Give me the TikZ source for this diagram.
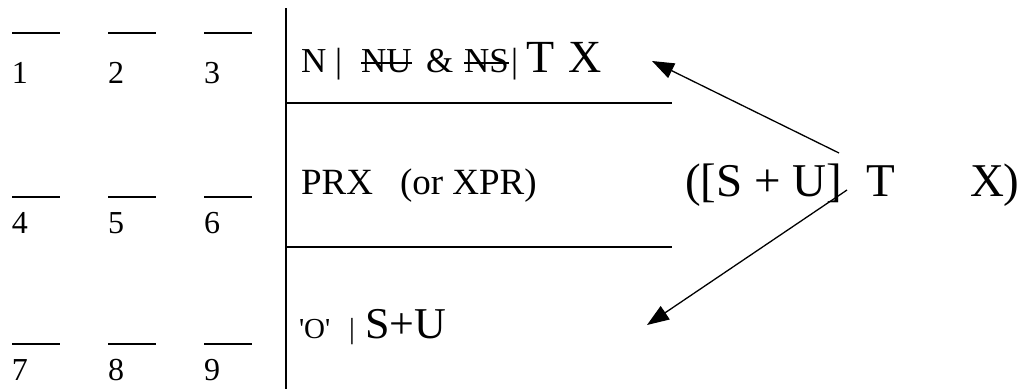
\documentclass[tikz,border=0pt]{standalone}
\usepackage{fontspec}
\setmainfont{Liberation Serif}
\newfontfamily\rawserif{Liberation Serif}
\usetikzlibrary{arrows.meta}
\begin{document}
\begin{tikzpicture}[x=1pt,y=-1pt,
  txt/.style={anchor=base west,inner sep=0pt,outer sep=0pt},
  sz/.style={font=\fontsize{#1}{#1}\selectfont},
  blank/.style={line width=2pt},
  rule/.style={line width=1.5pt},
  strike/.style={line width=1.2pt},
  pointer/.style={line width=1.3pt,-{Triangle[length=22pt,width=16pt]}}]
\useasboundingbox (0,0) rectangle (1026,389);

% numbered blanks, three rows of three
\foreach \r/\ly/\by in {0/33/83, 1/197/233, 2/344/380} {
  \foreach \c in {0,1,2} {
    \pgfmathtruncatemacro{\n}{3*\r+\c+1}
    \pgfmathsetmacro{\xa}{12+96*\c}
    \draw[blank] (\xa,\ly) -- ++(48,0);
    \node[txt,sz=32] (d\n) at (\xa,\by) {\n};
  }
}

% table frame
\coordinate (vtop) at (286,8);
\coordinate (vbot) at (286,389);
\draw[rule] (vtop) -- (vbot);
\coordinate (h1a) at (286,103);
\coordinate (h1b) at (672,103);
\coordinate (h2a) at (286,247);
\coordinate (h2b) at (672,247);
\draw[rule] (h1a) -- (h1b);
\draw[rule] (h2a) -- (h2b);

% first cell
\node[txt,sz=35] (nbar) at (301,72) {N |};
\node[txt,sz=35] (nu) at (361,72) {NU};
\node[txt,sz=35] (amp) at (426,72) {\&};
\node[txt,sz=35] (ns) at (464,72) {NS};
\node[txt,sz=35] (bar1) at (511,72) {|};
\node[txt,sz=46] (t1) at (526,72) {T};
\node[txt,sz=46] (x1) at (568,72) {X};
\draw[strike] ([yshift=9pt]nu.base west) -- ([yshift=9pt]nu.base east);
\draw[strike] ([yshift=9pt]ns.base west) -- ([yshift=9pt]ns.base east);

% second cell
\node[txt,sz=37] (prx) at (301,194) {PRX};
\node[txt,sz=37] (xpr) at (400,194) {(or XPR)};

% third cell
\node[txt,font=\rawserif\fontsize{29}{29}\selectfont] (oq) at (299,338) {'O'};
\node[txt,sz=29] (bar3) at (349,338) {|};
\node[txt,sz=44] (su) at (365,338) {S+U};

% expression on the right
\node[txt,sz=47] (grp) at (685,196) {([S + U]};
\node[txt,sz=47] (rt) at (866,196) {T};
\node[txt,sz=47] (rx) at (970,196) {X)};

% pointers
\coordinate (src1) at (839,153);
\coordinate (tip1) at (652,61);
\coordinate (src2) at (847,190);
\coordinate (tip2) at (647,325);
\draw[pointer] (src1) -- (tip1);
\draw[pointer] (src2) -- (tip2);
\end{tikzpicture}
\end{document}
